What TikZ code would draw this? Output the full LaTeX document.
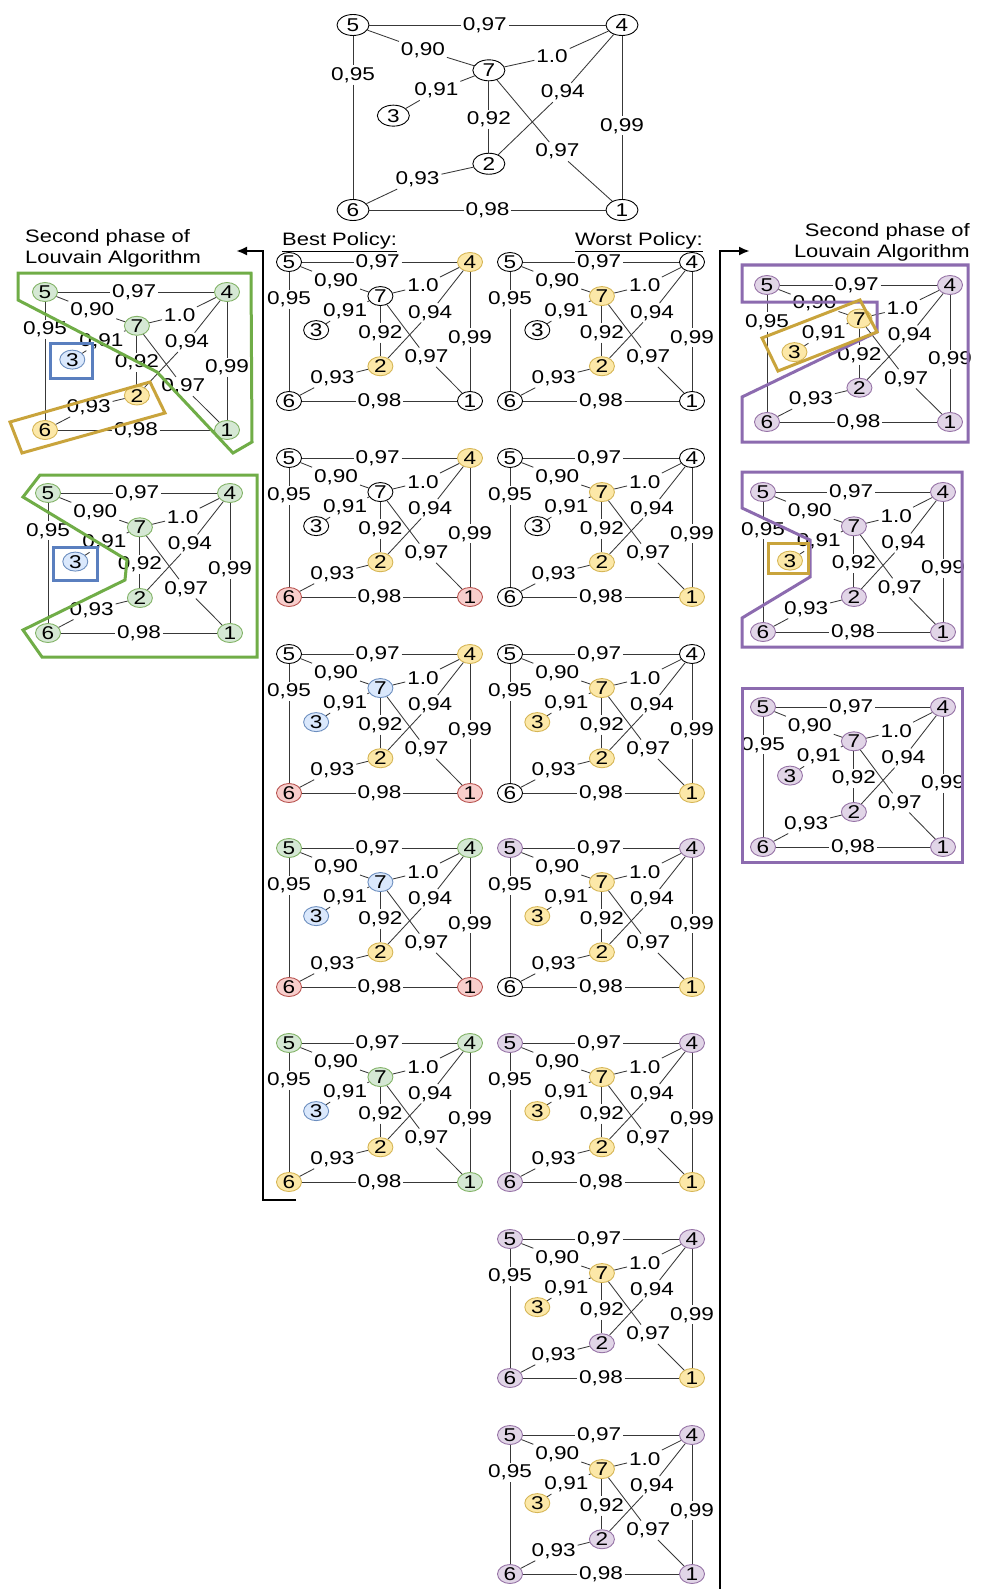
\documentclass[tikz,border=0pt]{standalone}
\usepackage{fontspec}
\setmainfont{Liberation Sans}[FakeStretch=1.22]
\usetikzlibrary{arrows.meta,shapes.geometric}
\definecolor{yfill}{HTML}{FCE8A8}\definecolor{ydraw}{HTML}{D6B656}
\definecolor{gfill}{HTML}{D5E8D4}\definecolor{gdraw}{HTML}{82B366}
\definecolor{bfill}{HTML}{DAE8FC}\definecolor{bdraw}{HTML}{6C8EBF}
\definecolor{rfill}{HTML}{F8CECC}\definecolor{rdraw}{HTML}{B85450}
\definecolor{pfill}{HTML}{E1D5E7}\definecolor{pdraw}{HTML}{9673A6}
\definecolor{polyg}{HTML}{70AD47}\definecolor{polyy}{HTML}{C9A43C}
\definecolor{polyb}{HTML}{5A7FBF}\definecolor{polyp}{HTML}{8C6BAF}
\tikzset{
  nd/.style={ellipse,inner sep=0pt,minimum width=25pt,minimum height=19pt,line width=0.9pt,
     font=\fontsize{18.5}{18.5}\selectfont,text height=13pt,text depth=0pt},
  nw/.style={draw=black,fill=white},
  ny/.style={draw=ydraw,fill=yfill},
  ng/.style={draw=gdraw,fill=gfill},
  nb/.style={draw=bdraw,fill=bfill},
  nr/.style={draw=rdraw,fill=rfill},
  np/.style={draw=pdraw,fill=pfill},
  lb/.style={inner sep=1.8pt,font=\fontsize{18.5}{18.5}\selectfont},
  ed/.style={draw=black!78,line width=0.85pt},
  poly/.style={line width=3pt,line join=miter},
  brk/.style={line width=2.2pt,draw=black},
  ttl/.style={inner sep=0pt,font=\fontsize{18}{18}\selectfont},
}
\newcommand{\G}[8]{%
  \node[nd,#2] (#1n1) at (1,1) {1};
  \node[nd,#3] (#1n2) at (0.505,0.75) {2};
  \node[nd,#4] (#1n3) at (0.15,0.49) {3};
  \node[nd,#5] (#1n4) at (1,0) {4};
  \node[nd,#6] (#1n5) at (0,0) {5};
  \node[nd,#7] (#1n6) at (0,1) {6};
  \node[nd,#8] (#1n7) at (0.505,0.245) {7};
  \node[lb] (#1a) at (0.49,0) {0,97};
  \node[lb] (#1b) at (0.26,0.135) {0,90};
  \node[lb] (#1c) at (0,0.27) {0,95};
  \node[lb] (#1d) at (0.74,0.17) {1.0};
  \node[lb] (#1e) at (0.31,0.355) {0,91};
  \node[lb] (#1f) at (0.78,0.365) {0,94};
  \node[lb] (#1g) at (0.505,0.51) {0,92};
  \node[lb] (#1h) at (1,0.545) {0,99};
  \node[lb] (#1i) at (0.76,0.685) {0,97};
  \node[lb] (#1j) at (0.24,0.835) {0,93};
  \node[lb] (#1k) at (0.5,1) {0,98};
  \draw[ed] (#1n5) -- (#1a) -- (#1n4);
  \draw[ed] (#1n5) -- (#1b) -- (#1n7);
  \draw[ed] (#1n5) -- (#1c) -- (#1n6);
  \draw[ed] (#1n7) -- (#1d) -- (#1n4);
  \draw[ed] (#1n3) -- (#1e) -- (#1n7);
  \draw[ed] (#1n2) -- (#1f) -- (#1n4);
  \draw[ed] (#1n7) -- (#1g) -- (#1n2);
  \draw[ed] (#1n4) -- (#1h) -- (#1n1);
  \draw[ed] (#1n7) -- (#1i) -- (#1n1);
  \draw[ed] (#1n6) -- (#1j) -- (#1n2);
  \draw[ed] (#1n6) -- (#1k) -- (#1n1);
}
\begin{document}
\begin{tikzpicture}[x=1pt,y=-1pt]
\useasboundingbox[fill=white] (0,0) rectangle (982,1589);
% top graph
\begin{scope}[shift={(353pt,-25pt)},x={(269pt,0pt)},y={(0pt,-185pt)},nd/.append style={minimum width=32pt,minimum height=21pt}]
  \G{t}{nw}{nw}{nw}{nw}{nw}{nw}{nw}
\end{scope}
% best policy column
\begin{scope}[shift={(289pt,-262pt)},x={(181pt,0pt)},y={(0pt,-139pt)}]
  \G{ba}{nw}{ny}{nw}{ny}{nw}{nw}{nw}
\end{scope}
\begin{scope}[shift={(289pt,-458pt)},x={(181pt,0pt)},y={(0pt,-139pt)}]
  \G{bb}{nr}{ny}{nw}{ny}{nw}{nr}{nw}
\end{scope}
\begin{scope}[shift={(289pt,-654pt)},x={(181pt,0pt)},y={(0pt,-139pt)}]
  \G{bc}{nr}{ny}{nb}{ny}{nw}{nr}{nb}
\end{scope}
\begin{scope}[shift={(289pt,-848pt)},x={(181pt,0pt)},y={(0pt,-139pt)}]
  \G{bd}{nr}{ny}{nb}{ng}{ng}{nr}{nb}
\end{scope}
\begin{scope}[shift={(289pt,-1043pt)},x={(181pt,0pt)},y={(0pt,-139pt)}]
  \G{be}{ng}{ny}{nb}{ng}{ng}{ny}{ng}
\end{scope}
% worst policy column
\begin{scope}[shift={(510pt,-262pt)},x={(182pt,0pt)},y={(0pt,-139pt)}]
  \G{wa}{nw}{ny}{nw}{nw}{nw}{nw}{ny}
\end{scope}
\begin{scope}[shift={(510pt,-458pt)},x={(182pt,0pt)},y={(0pt,-139pt)}]
  \G{wb}{ny}{ny}{nw}{nw}{nw}{nw}{ny}
\end{scope}
\begin{scope}[shift={(510pt,-654pt)},x={(182pt,0pt)},y={(0pt,-139pt)}]
  \G{wc}{ny}{ny}{ny}{nw}{nw}{nw}{ny}
\end{scope}
\begin{scope}[shift={(510pt,-848pt)},x={(182pt,0pt)},y={(0pt,-139pt)}]
  \G{wd}{ny}{ny}{ny}{np}{np}{nw}{ny}
\end{scope}
\begin{scope}[shift={(510pt,-1043pt)},x={(182pt,0pt)},y={(0pt,-139pt)}]
  \G{we}{ny}{ny}{ny}{np}{np}{np}{ny}
\end{scope}
\begin{scope}[shift={(510pt,-1239pt)},x={(182pt,0pt)},y={(0pt,-139pt)}]
  \G{wf}{ny}{np}{ny}{np}{np}{np}{ny}
\end{scope}
\begin{scope}[shift={(510pt,-1435pt)},x={(182pt,0pt)},y={(0pt,-139pt)}]
  \G{wg}{np}{np}{ny}{np}{np}{np}{ny}
\end{scope}
% left second phase
\begin{scope}[shift={(45pt,-292pt)},x={(182pt,0pt)},y={(0pt,-138pt)}]
  \G{la}{ng}{ny}{nb}{ng}{ng}{ny}{ng}
\end{scope}
\begin{scope}[shift={(48pt,-493pt)},x={(182pt,0pt)},y={(0pt,-140pt)}]
  \G{lb}{ng}{ng}{nb}{ng}{ng}{ng}{ng}
\end{scope}
% right second phase
\begin{scope}[shift={(767pt,-285pt)},x={(183pt,0pt)},y={(0pt,-137pt)}]
  \G{ra}{np}{np}{ny}{np}{np}{np}{ny}
\end{scope}
\begin{scope}[shift={(763pt,-492pt)},x={(180pt,0pt)},y={(0pt,-140pt)}]
  \G{rb}{np}{np}{ny}{np}{np}{np}{np}
\end{scope}
\begin{scope}[shift={(763pt,-707pt)},x={(180pt,0pt)},y={(0pt,-140pt)}]
  \G{rc}{np}{np}{np}{np}{np}{np}{np}
\end{scope}
% community outlines
\draw[poly,polyg] (18,273) -- (251,273) -- (252,442) -- (233,453) -- (157,372) -- (18,300) -- cycle;
\draw[poly,polyy] (10,422) -- (150,382) -- (165,413) -- (22,453) -- cycle;
\draw[poly,polyb] (50,343) rectangle (92,378);
\draw[poly,polyg] (40,475) -- (257,475) -- (257,657) -- (42,657) -- (23,630) -- (125,580) -- (127,560) -- (23,497) -- cycle;
\draw[poly,polyb] (53,547) rectangle (97,580);
\draw[poly,polyp] (742,265) -- (968,265) -- (968,442) -- (742,442) -- (742,397) -- (877,332) -- (877,302) -- (742,302) -- cycle;
\draw[poly,polyy] (762,338) -- (860,300) -- (877,332) -- (778,371) -- cycle;
\draw[poly,polyp] (742,472) -- (962,472) -- (962,647) -- (742,647) -- (742,618) -- (810,577) -- (810,540) -- (742,508) -- cycle;
\draw[poly,polyy] (768,543) rectangle (808,573);
\draw[poly,polyp] (742,688) rectangle (962,862);
% titles
\node[ttl,anchor=base west] (bestt) at (282,246) {\underline{Best Policy:}};
\node[ttl,anchor=base east] (worstt) at (703,246) {\underline{Worst Policy:}};
\node[ttl,anchor=base west] (lt1) at (25,243) {Second phase of};
\node[ttl,anchor=base west] (lt2) at (25,264) {Louvain Algorithm};
\node[ttl,anchor=base east] (rt1) at (970,237) {Second phase of};
\node[ttl,anchor=base east] (rt2) at (970,258) {Louvain Algorithm};
% brackets
\coordinate (lb0) at (296,1200);
\coordinate (lb1) at (263,1200);
\coordinate (lb2) at (263,251);
\coordinate (lb3) at (236,251);
\draw[brk,-{Latex[length=11pt,width=9pt]}] (lb0) -- (lb1) -- (lb2) -- (lb3);
\coordinate (rb0) at (720,1589);
\coordinate (rb1) at (720,251);
\coordinate (rb2) at (750,251);
\draw[brk,-{Latex[length=11pt,width=9pt]}] (rb0) -- (rb1) -- (rb2);
\end{tikzpicture}
\end{document}
